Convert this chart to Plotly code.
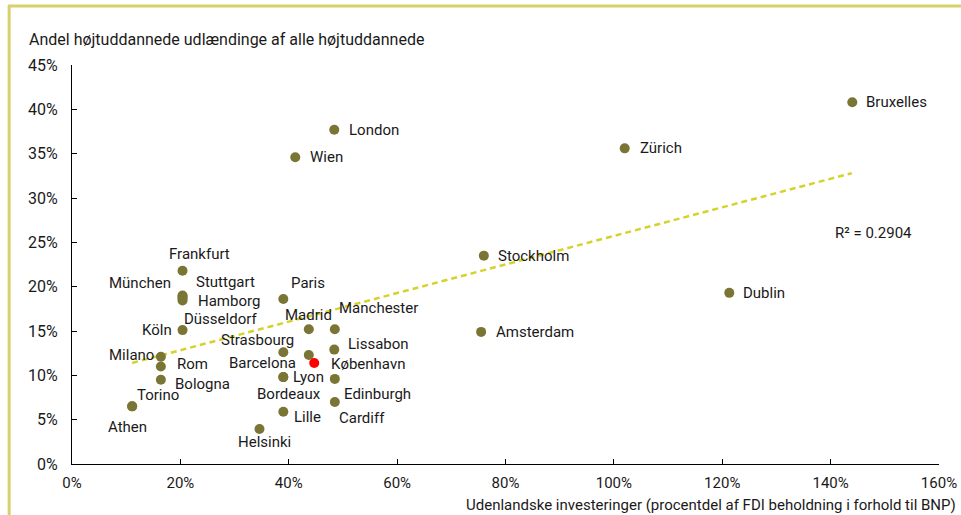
import plotly.graph_objects as go

#%%-----------------------------------------------------------------------
# DATA

cities = ['Bruxelles', 'Zürich', 'London', 'Wien', 'Stockholm', 'Dublin', 'Amsterdam',
          'Frankfurt', 'München', 'Stuttgart', 'Hamborg', 'Düsseldorf', 'Köln',
          'Milano', 'Rom', 'Bologna', 'Torino', 'Athen',
          'Paris', 'Madrid', 'Manchester', 'Strasbourg', 'Barcelona', 'Lissabon',
          'Lyon', 'Bordeaux', 'Edinburgh', 'Cardiff', 'Lille', 'Helsinki']

# FDI stock in % of GDP
fdi = [144.0, 102.0, 48.4, 41.2, 76.0, 121.3, 75.5,
       20.4, 20.4, 20.4, 20.4, 20.4, 20.4,
       16.4, 16.4, 16.4, 11.1, 11.1,
       39.0, 43.7, 48.5, 39.0, 43.7, 48.4,
       39.0, 39.0, 48.5, 48.5, 39.0, 34.6]

# share of highly educated foreigners in %
share = [40.8, 35.6, 37.7, 34.6, 23.5, 19.3, 14.9,
         21.8, 19.0, 18.9, 18.7, 18.45, 15.1,
         12.1, 11.0, 9.5, 6.5, 6.5,
         18.6, 15.2, 15.2, 12.6, 12.3, 12.9,
         9.8, 9.8, 9.6, 7.0, 5.9, 3.95]

# highlighted city
kbh_fdi = [44.7]
kbh_share = [11.4]

# trend line end points
trend_x = [11.1, 143.9]
trend_y = [11.4, 32.8]

r2_text = 'R² = 0.2904'

# label placement: (xanchor, xshift px, yshift px)
label_pos = {
    'Bruxelles': ('left', 12, 0), 'Zürich': ('left', 13, 0), 'London': ('left', 13, 0),
    'Wien': ('left', 13, 0), 'Stockholm': ('left', 12, 0), 'Dublin': ('left', 12, 0),
    'Amsterdam': ('left', 13, 0),
    'Frankfurt': ('center', 17, 17), 'München': ('right', -10, 13), 'Stuttgart': ('left', 11, 14),
    'Hamborg': ('left', 13, -3), 'Düsseldorf': ('left', -1, -19), 'Köln': ('right', -9, 0),
    'Milano': ('right', -5, 2), 'Rom': ('left', 14, 2), 'Bologna': ('left', 12, -4),
    'Torino': ('center', 26, 11), 'Athen': ('center', -5, -21),
    'Paris': ('left', 6, 16), 'Madrid': ('center', 0, 14), 'Manchester': ('left', 2, 21),
    'Strasbourg': ('right', 13, 12), 'Barcelona': ('right', -11, -8), 'Lissabon': ('left', 12, 6),
    'Lyon': ('left', 8, 0), 'Bordeaux': ('center', 6, -17), 'Edinburgh': ('left', 7, -15),
    'Cardiff': ('left', 2, -16), 'Lille': ('left', 9, -5), 'Helsinki': ('center', 5, -13),
}

#%%-----------------------------------------------------------------------
# PLOT

olive = '#7b7535'
txt_col = '#1a1a1a'
font_family = 'Roboto, Arial, sans-serif'

fig = go.Figure()

# Trend line
fig.add_trace(go.Scatter(
    x=trend_x, y=trend_y,
    mode='lines',
    line=dict(color='#d6d22c', width=2.5, dash='6px,4px'),
    hoverinfo='skip',
))

# Cities
fig.add_trace(go.Scatter(
    x=fdi, y=share,
    mode='markers',
    marker=dict(color=olive, size=10),
    text=cities,
))

# København
fig.add_trace(go.Scatter(
    x=kbh_fdi, y=kbh_share,
    mode='markers',
    marker=dict(color='#ff0000', size=10),
    text=['København'],
))

# City labels
for name, x, y in zip(cities, fdi, share):
    anchor, dx, dy = label_pos[name]
    fig.add_annotation(x=x, y=y, text=name, showarrow=False,
                       xanchor=anchor, yanchor='middle', xshift=dx, yshift=dy,
                       font=dict(size=15, color=txt_col))
fig.add_annotation(x=kbh_fdi[0], y=kbh_share[0], text='København', showarrow=False,
                   xanchor='left', yanchor='middle', xshift=15, yshift=-1,
                   font=dict(size=15, color=txt_col))

# R² text
fig.add_annotation(x=0.878, y=0.578, xref='paper', yref='paper', text=r2_text,
                   showarrow=False, xanchor='left', yanchor='middle',
                   font=dict(size=15, color=txt_col))

# Axis titles
fig.add_annotation(x=-0.052, y=1.063, xref='paper', yref='paper',
                   text='Andel højtuddannede udlændinge af alle højtuddannede',
                   showarrow=False, xanchor='left', yanchor='middle',
                   font=dict(size=16, color=txt_col))
fig.add_annotation(x=1.022, y=-0.102, xref='paper', yref='paper',
                   text='Udenlandske investeringer (procentdel af FDI beholdning i forhold til BNP)',
                   showarrow=False, xanchor='right', yanchor='middle',
                   font=dict(size=15, color=txt_col))

# Frame in report colour
fig.add_shape(type='line', xref='paper', yref='paper', x0=-0.0725, x1=-0.0725, y0=1.148, y1=-0.2,
              line=dict(color='#d8d06c', width=3))
fig.add_shape(type='line', xref='paper', yref='paper', x0=-0.074, x1=1.1, y0=1.148, y1=1.148,
              line=dict(color='#d8d06c', width=3))

fig.update_layout(
    width=961, height=515,
    margin=dict(l=72, r=22, t=65, b=51),
    showlegend=False,
    plot_bgcolor='white', paper_bgcolor='white',
    font=dict(family=font_family, size=15, color=txt_col),
    xaxis=dict(range=[0, 160], dtick=20, ticksuffix='%', ticks='inside', ticklen=5,
               tickcolor='black', showline=True, linecolor='black', linewidth=1,
               showgrid=False, zeroline=False, automargin=False, ticklabelstandoff=5,
               tickfont=dict(size=15)),
    yaxis=dict(range=[0, 45], dtick=5, ticksuffix='%', ticks='inside', ticklen=5,
               tickcolor='black', showline=True, linecolor='black', linewidth=1,
               showgrid=False, zeroline=False, automargin=False, ticklabelstandoff=10,
               tickfont=dict(size=16)),
)

# page body margin would push the figure out of the window
fig.write_html('out.html', config={'displayModeBar': False},
               post_script="document.body.style.margin='0';")
